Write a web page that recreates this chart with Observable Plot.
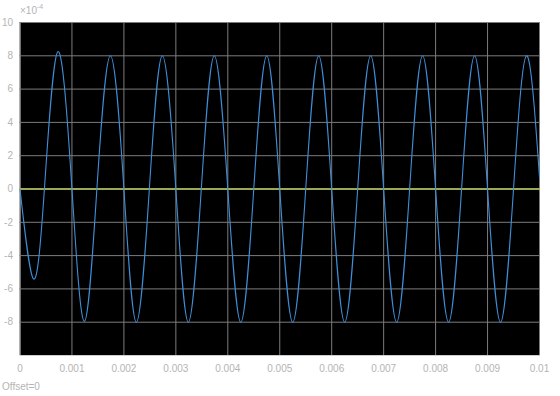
<!DOCTYPE html>
<html>
<head>
<meta charset="utf-8">
<script src="https://cdn.jsdelivr.net/npm/d3@7"></script>
<script src="https://cdn.jsdelivr.net/npm/@observablehq/plot@0.6"></script>
<style>
  html, body { margin: 0; padding: 0; background: #ffffff; }
  #wrap { position: relative; width: 560px; height: 396px; font-family: "Liberation Sans", Arial, sans-serif; }
  #expo { position: absolute; left: 20px; top: 4px; font-size: 10px; color: #b4b4b4; }
  #expo sup { font-size: 7px; position: relative; top: -1px; }
  #offset { position: absolute; left: 2px; top: 381px; font-size: 10px; color: #b4b4b4; }
</style>
</head>
<body>
<div id="wrap">
  <div id="chart"></div>
  <div id="expo">×10<sup>-4</sup></div>
  <div id="offset">Offset=0</div>
</div>
<script>
// Time (s) of key points: start, extrema and zero crossings
const times = [
  0, 0.00026, 0.00047, 0.00073, 0.00100,
  0.00124, 0.00148, 0.00174, 0.00200,
  0.00224, 0.00249, 0.00274, 0.00300,
  0.00324, 0.00349, 0.00374, 0.00400,
  0.00425, 0.00450, 0.00475, 0.00500,
  0.00525, 0.00550, 0.00575, 0.00600,
  0.00625, 0.00650, 0.00675, 0.00700,
  0.00725, 0.00750, 0.00775, 0.00800,
  0.00825, 0.00850, 0.00875, 0.00900,
  0.00925, 0.00950, 0.00975, 0.01000
];
// Signal values in units of 1e-4
const signal = [
  0, -5.4, 0, 8.25, 0,
  -7.95, 0, 8.0, 0,
  -8.0, 0, 8.0, 0,
  -8.0, 0, 8.0, 0,
  -8.0, 0, 8.0, 0,
  -8.0, 0, 8.0, 0,
  -8.0, 0, 8.0, 0,
  -8.0, 0, 8.0, 0,
  -8.0, 0, 8.0, 0,
  -8.0, 0, 8.0, 0.7
];
// Second (flat) trace
const offsetTimes = [0, 0.01];
const offsetValues = [0, 0];

const xTicks = [0, 0.001, 0.002, 0.003, 0.004, 0.005, 0.006, 0.007, 0.008, 0.009, 0.01];
const yTicks = [-8, -6, -4, -2, 0, 2, 4, 6, 8, 10];

const trace = times.map((t, i) => ({t, v: signal[i]}));
const flat = offsetTimes.map((t, i) => ({t, v: offsetValues[i]}));

const chart = Plot.plot({
  width: 560,
  height: 396,
  marginLeft: 19.5,
  marginRight: 21,
  marginTop: 22,
  marginBottom: 41,
  style: {background: "#ffffff", fontFamily: "Liberation Sans, Arial, sans-serif", fontSize: "10px", color: "#b4b4b4"},
  x: {domain: [0, 0.01]},
  y: {domain: [-10, 10]},
  marks: [
    Plot.frame({fill: "#000000", stroke: "#cfcfcf"}),
    Plot.gridX(xTicks, {stroke: "#7c7c7c", strokeOpacity: 1}),
    Plot.gridY(yTicks, {stroke: "#7c7c7c", strokeOpacity: 1}),
    Plot.axisX(xTicks, {tickSize: 0, tickPadding: 9, tickFormat: d => String(+d.toFixed(3)), label: null, fill: "#b4b4b4"}),
    Plot.axisY(yTicks, {tickSize: 0, tickPadding: 7, tickFormat: d => String(d), label: null, fill: "#b4b4b4"}),
    Plot.line(flat, {x: "t", y: "v", stroke: "#bccd5c", strokeWidth: 1.3}),
    Plot.line(trace, {x: "t", y: "v", stroke: "#3f8fd8", strokeWidth: 1.1, curve: "natural"})
  ]
});
document.getElementById("chart").appendChild(chart);
</script>
</body>
</html>
